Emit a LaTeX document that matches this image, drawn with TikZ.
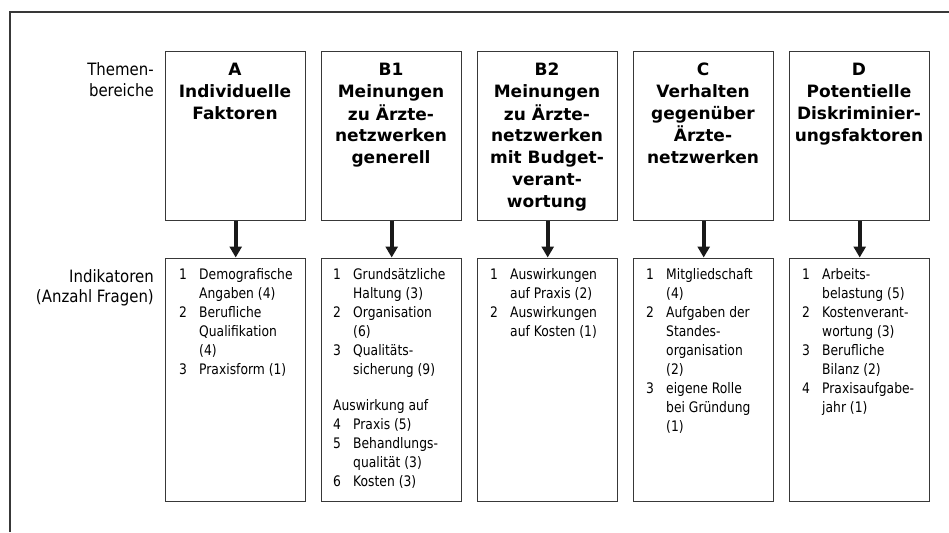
\documentclass[tikz,border=0pt]{standalone}
\usepackage{fontspec}
\setmainfont{DejaVu Sans}
\newfontfamily\listfont[FakeStretch=0.85]{DejaVu Sans}
\newfontfamily\labfont[FakeStretch=0.88]{DejaVu Sans}
\usetikzlibrary{arrows.meta}
\definecolor{linegray}{HTML}{383838}
\tikzset{
  topbox/.style={draw=linegray, line width=1.4pt, minimum width=140pt, minimum height=169pt, inner sep=0pt, anchor=north west},
  lowbox/.style={draw=linegray, line width=1.4pt, minimum width=140pt, minimum height=243pt, inner sep=0pt, anchor=north west},
  titletext/.style={inner sep=0pt, anchor=base, font=\fontsize{17}{21.8}\selectfont\bfseries},
  listtext/.style={inner sep=0pt, anchor=base west, font=\listfont\fontsize{14.5}{19}\selectfont},
  labeltext/.style={inner sep=0pt, anchor=base east, font=\labfont\fontsize{17}{20}\selectfont},
  flowarrow/.style={line width=4pt, black!90, -{Triangle[length=11pt,width=12pt]}, shorten >=0pt}
}
\newcommand{\ttl}[1]{\begin{tabular}[t]{@{}c@{}}#1\end{tabular}}
\newcommand{\lst}[1]{\begin{tabular}[t]{@{}p{20pt}@{}l@{}}#1\end{tabular}}
\begin{document}
\begin{tikzpicture}[x=1pt,y=-1pt]
\useasboundingbox (0,0) rectangle (949,532);
\fill[white] (0,0) rectangle (949,532);
% outer frame (open to right and bottom)
\coordinate (fb) at (10,532);
\coordinate (fc) at (10,12);
\coordinate (fr) at (949,12);
\draw[linegray, line width=1.4pt] (fb) -- (fc) -- (fr);

% side labels
\node[labeltext] (lab1) at (154,76) {\begin{tabular}[t]{@{}r@{}}Themen-\\[1pt] bereiche\end{tabular}};
\node[labeltext] (lab2) at (154,282) {\begin{tabular}[t]{@{}r@{}}Indikatoren\\ (Anzahl Fragen)\end{tabular}};

% top boxes
\node[topbox] (tA) at (165,51) {};
\node[topbox] (tB1) at (321,51) {};
\node[topbox] (tB2) at (477,51) {};
\node[topbox] (tC) at (633,51) {};
\node[topbox] (tD) at (789,51) {};

% lower boxes
\node[lowbox] (lA) at (165,257.5) {};
\node[lowbox] (lB1) at (321,257.5) {};
\node[lowbox] (lB2) at (477,257.5) {};
\node[lowbox] (lC) at (633,257.5) {};
\node[lowbox] (lD) at (789,257.5) {};

% titles
\node[titletext] (nA) at (235,76) {\ttl{A\\Individuelle\\Faktoren}};
\node[titletext] (nB1) at (391,76) {\ttl{B1\\Meinungen\\zu Ärzte-\\netzwerken\\generell}};
\node[titletext] (nB2) at (547,76) {\ttl{B2\\Meinungen\\zu Ärzte-\\netzwerken\\mit Budget-\\verant-\\wortung}};
\node[titletext] (nC) at (703,76) {\ttl{C\\Verhalten\\gegenüber\\Ärzte-\\netzwerken}};
\node[titletext] (nD) at (859,76) {\ttl{D\\Potentielle\\Diskriminier-\\ungsfaktoren}};

% lists
\node[listtext] (iA) at (179,279) {\lst{1 & Demografische\\ & Angaben (4)\\2 & Berufliche\\ & Qualifikation\\ & (4)\\3 & Praxisform (1)}};
\node[listtext] (iB1) at (333,279) {\lst{1 & Grundsätzliche\\ & Haltung (3)\\2 & Organisation\\ & (6)\\3 & Qualitäts-\\ & sicherung (9)\\[17pt]\multicolumn{2}{@{}l@{}}{Auswirkung auf}\\4 & Praxis (5)\\5 & Behandlungs-\\ & qualität (3)\\6 & Kosten (3)}};
\node[listtext] (iB2) at (490,279) {\lst{1 & Auswirkungen\\ & auf Praxis (2)\\2 & Auswirkungen\\ & auf Kosten (1)}};
\node[listtext] (iC) at (646,279) {\lst{1 & Mitgliedschaft\\ & (4)\\2 & Aufgaben der\\ & Standes-\\ & organisation\\ & (2)\\3 & eigene Rolle\\ & bei Gründung\\ & (1)}};
\node[listtext] (iD) at (802,279) {\lst{1 & Arbeits-\\ & belastung (5)\\2 & Kostenverant-\\ & wortung (3)\\3 & Berufliche\\ & Bilanz (2)\\4 & Praxisaufgabe-\\ & jahr (1)}};

% arrows
\foreach \b in {A,B1,B2,C,D}{
  \draw[flowarrow] (t\b.south) -- (l\b.north);
}
\end{tikzpicture}
\end{document}
